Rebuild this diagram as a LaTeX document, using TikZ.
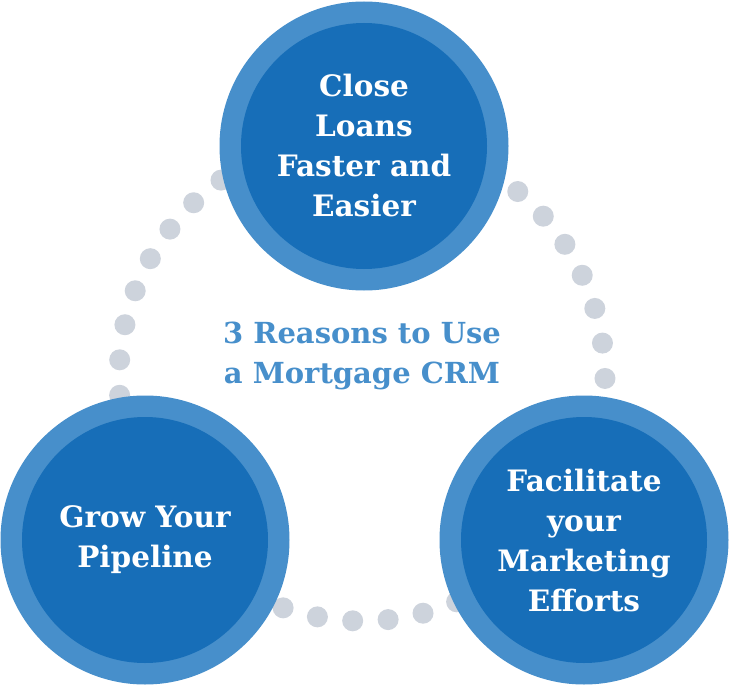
\documentclass[tikz,border=0pt]{standalone}
\usepackage{fontspec}
\setmainfont{DejaVu Serif}
\usepackage{tikz}
\usepackage{xcolor}
\definecolor{ringblue}{HTML}{478FCB}
\definecolor{coreblue}{HTML}{176EB8}
\definecolor{dotgray}{HTML}{CDD3DC}
\tikzset{
  ring/.style={circle,fill=ringblue,minimum size=289pt,inner sep=0pt},
  core/.style={circle,fill=coreblue,minimum size=246pt,inner sep=0pt,text=white,align=center,
    font=\fontsize{29.5}{40}\selectfont\bfseries},
  title/.style={text=ringblue,align=center,font=\fontsize{29}{40}\selectfont\bfseries}
}
\begin{document}
\begin{tikzpicture}[x=1pt,y=-1pt]
  \useasboundingbox (0,0) rectangle (729,685);
  \coordinate (loop) at (362,378);
  \foreach \k in {0,...,42} \fill[dotgray] (loop) ++(-92.2+\k*360/43:243pt) circle (10.5pt);
  \node[ring] (top) at (364,146) {}; \node[core] (topc) at (top) {Close\\Loans\\Faster and\\Easier};
  \node[ring] (left) at (145,540) {}; \node[core] (leftc) at (left) {Grow Your\\Pipeline};
  \node[ring] (right) at (584,540) {}; \node[core] (rightc) at (right) {Facilitate\\your\\Marketing\\Efforts};
  \node[title] (head) at (362,356) {3 Reasons to Use\\a Mortgage CRM};
\end{tikzpicture}
\end{document}
